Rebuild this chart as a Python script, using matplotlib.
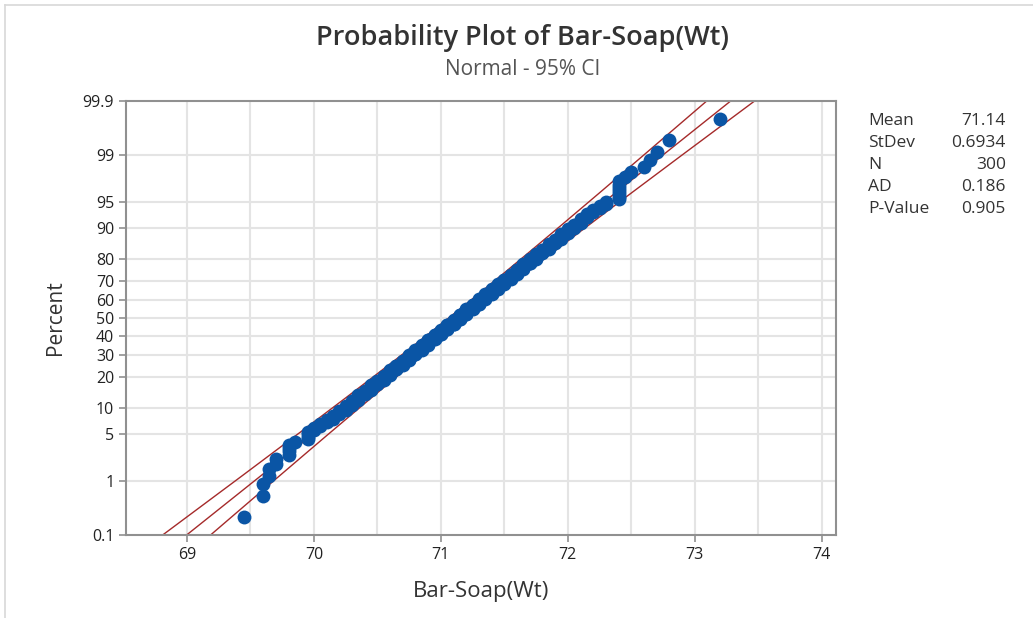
import numpy as np
import matplotlib
matplotlib.use('Agg')
import matplotlib.pyplot as plt
from matplotlib.lines import Line2D
from statistics import NormalDist

plt.rcParams['font.family'] = ['Open Sans', 'DejaVu Sans']

# weights (grouped: value -> how many points stacked there)
wt_values = [69.45, 69.60, 69.65, 69.70, 69.80, 69.85, 69.95, 70.00, 70.05, 70.10,
             70.15, 70.20, 70.25, 70.30, 70.35, 70.40, 70.45, 70.50, 70.55, 70.60,
             70.65, 70.70, 70.75, 70.80, 70.85, 70.90, 70.95, 71.00, 71.05, 71.10,
             71.15, 71.20, 71.25, 71.30, 71.35, 71.40, 71.45, 71.50, 71.55, 71.60,
             71.65, 71.70, 71.75, 71.80, 71.85, 71.90, 71.95, 72.00, 72.05, 72.10,
             72.15, 72.20, 72.25, 72.30, 72.40, 72.45, 72.50, 72.60, 72.65, 72.70,
             72.80, 73.20]
wt_counts = [1, 2, 2, 2, 4, 1, 4, 2, 2, 2,
             3, 3, 4, 4, 5, 4, 6, 5, 6, 7,
             6, 7, 8, 7, 8, 9, 8, 8, 9, 8,
             9, 9, 8, 9, 8, 8, 8, 7, 7, 7,
             7, 6, 6, 5, 6, 4, 5, 4, 3, 4,
             3, 2, 2, 2, 7, 1, 1, 1, 1, 1,
             1, 1]

# summary shown in the side table
stat_names = ['Mean', 'StDev', 'N', 'AD', 'P-Value']
stat_values = ['71.14', '0.6934', '300', '0.186', '0.905']
mean = 71.14
sd = 0.6934

pct_ticks = [0.1, 1, 5, 10, 20, 30, 40, 50, 60, 70, 80, 90, 95, 99, 99.9]
pct_labels = ['0.1', '1', '5', '10', '20', '30', '40', '50', '60', '70', '80', '90', '95', '99', '99.9']
x_ticks = [69, 70, 71, 72, 73, 74]

nd = NormalDist()
data = np.repeat(wt_values, wt_counts)
n = len(data)
ranks = np.arange(1, n + 1)
# median ranks (Benard), as Minitab does
z_pts = np.array([nd.inv_cdf((i - 0.3) / (n + 0.4)) for i in ranks])

z_lo = nd.inv_cdf(0.001)
z_hi = nd.inv_cdf(0.999)
zz = np.linspace(z_lo - 0.1, z_hi + 0.1, 200)
fit = mean + zz * sd
half = 1.96 * sd * np.sqrt(1.0 / n + zz ** 2 / (2.0 * n))

fig = plt.figure(figsize=(10.33, 6.18), dpi=100)
ax = fig.add_axes([0.122, 0.1343, 0.687, 0.7023])

grid_c = '#e4e4e4'
for xv in np.arange(69, 74.01, 0.5):
    ax.axvline(xv, color=grid_c, lw=1.5, zorder=0)
for p in pct_ticks[1:-1]:
    ax.axhline(nd.inv_cdf(p / 100), color=grid_c, lw=1.5, zorder=0)

line_c = '#a52a2a'
ax.plot(fit, zz, color=line_c, lw=1.0, zorder=2)
ax.plot(fit - half, zz, color=line_c, lw=1.0, zorder=2)
ax.plot(fit + half, zz, color=line_c, lw=1.0, zorder=2)

ax.plot(data, z_pts, 'o', color='#0a55a5', markersize=10, markeredgewidth=0, zorder=3)

ax.set_xlim(68.52, 74.11)
ax.set_ylim(z_lo, z_hi)
ax.set_yticks([nd.inv_cdf(p / 100) for p in pct_ticks])
ax.set_yticklabels(pct_labels)
ax.set_xticks(x_ticks)
ax.set_xticklabels([str(t) for t in x_ticks])
ax.tick_params(axis='both', colors='#909090', labelcolor='#222222', labelsize=11.5,
               length=5, width=1.2)
for s in ax.spines.values():
    s.set_color('#909090')
    s.set_linewidth(1.5)

ax.set_xlabel('Bar-Soap(Wt)', fontsize=16, color='#333333', labelpad=13)
ax.set_ylabel('Percent', fontsize=15, color='#333333', labelpad=12)

fig.text(0.506, 0.938, 'Probability Plot of Bar-Soap(Wt)', ha='center', va='center',
         fontsize=19.5, fontweight='semibold', color='#333333')
fig.text(0.506, 0.888, 'Normal - 95% CI', ha='center', va='center',
         fontsize=15, color='#555555')

for k, (nm, val) in enumerate(zip(stat_names, stat_values)):
    yy = 1 - (121 + 22 * k) / 618
    fig.text(868 / 1033, yy, nm, ha='left', va='center', fontsize=12.5, color='#333333')
    fig.text(1006 / 1033, yy, val, ha='right', va='center', fontsize=12.5, color='#333333')

# light outer frame (left and top)
fig.add_artist(Line2D([5 / 1033, 5 / 1033], [0, 1 - 5 / 618], color='#d8d8d8', lw=1.2))
fig.add_artist(Line2D([5 / 1033, 1], [1 - 5 / 618, 1 - 5 / 618], color='#d8d8d8', lw=1.2))

fig.savefig('out.png', dpi=100)
